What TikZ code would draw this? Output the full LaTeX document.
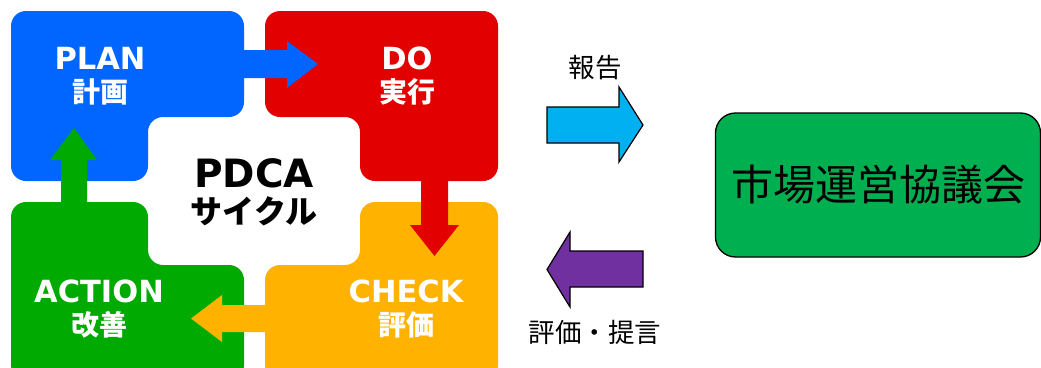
\documentclass[tikz,border=0pt]{standalone}
\usepackage{fontspec}
\setmainfont{Noto Sans CJK JP}
\newfontfamily\latinfont{DejaVu Sans}
\definecolor{pblue}{RGB}{0,102,255}
\definecolor{pred}{RGB}{226,0,0}
\definecolor{porange}{RGB}{255,178,0}
\definecolor{pgreen}{RGB}{0,170,0}
\definecolor{pcyan}{RGB}{0,176,240}
\definecolor{ppurple}{RGB}{112,48,160}
\definecolor{cgreen}{RGB}{0,176,80}
\tikzset{
  box/.style={rounded corners=15},
  wlabel/.style={text=white, font=\latinfont\bfseries\fontsize{30.5}{31}\selectfont, inner sep=0},
  wkanji/.style={text=white, font=\bfseries\fontsize{28}{28}\selectfont, inner sep=0},
  blockarrow/.style={draw=black, line width=1.2pt, line join=miter},
  side/.style={font=\fontsize{26.5}{27}\selectfont, inner sep=0},
}
\begin{document}
\begin{tikzpicture}[x=1pt,y=-1pt]
\clip (0,0) rectangle (1041,367);
\fill[white] (0,0) rectangle (1041,367);
% quadrants
\fill[pblue, box] (11,11) -- (244,11) -- (244,117) -- (148,117) -- (148,181) -- (11,181) -- cycle;
\fill[pred, box] (265,11) -- (498,11) -- (498,181) -- (360,181) -- (360,117) -- (265,117) -- cycle;
\fill[porange, box] (360,202) -- (498,202) -- (498,380) -- (265,380) -- (265,265) -- (360,265) -- cycle;
\fill[pgreen, box] (11,202) -- (148,202) -- (148,265) -- (244,265) -- (244,380) -- (11,380) -- cycle;
% cycle arrows
\fill[pblue] (240,50) -- (287,50) -- (287,41) -- (318,64) -- (287,88) -- (287,78) -- (240,78) -- cycle;
\fill[pred] (421,177) -- (421,225) -- (410,225) -- (434.5,256) -- (459,225) -- (448,225) -- (448,177) -- cycle;
\fill[porange] (269,305) -- (222,305) -- (222,295) -- (191,318.5) -- (222,342) -- (222,332) -- (269,332) -- cycle;
\fill[pgreen] (61,206) -- (61,160) -- (50,160) -- (74,128) -- (97,160) -- (87,160) -- (87,206) -- cycle;
% labels
\node[wlabel] (plan) at (100,58) {PLAN};
\node[wkanji] (plank) at (100,92) {計画};
\node[wlabel] (do) at (407,58) {DO};
\node[wkanji] (dok) at (407,92) {実行};
\node[wlabel] (action) at (99,291) {ACTION};
\node[wkanji] (actionk) at (99,325) {改善};
\node[wlabel] (check) at (406,291) {CHECK};
\node[wkanji] (checkk) at (406,325) {評価};
\node[font=\latinfont\bfseries\fontsize{39}{39}\selectfont, inner sep=0] (pdca) at (254,173) {PDCA};
\node[font=\bfseries\fontsize{32}{32}\selectfont, inner sep=0] (cycle) at (254,211) {サイクル};
% right side
\filldraw[blockarrow, fill=pcyan] (547,107) -- (619,107) -- (619,87) -- (643,125) -- (619,162) -- (619,143) -- (547,143) -- cycle;
\filldraw[blockarrow, fill=ppurple] (643,251) -- (570,251) -- (570,232) -- (547,269.5) -- (570,307) -- (570,287) -- (643,287) -- cycle;
\node[side] (report) at (595,68) {報告};
\node[side] (eval) at (595,332) {評価・提言};
\node[draw=black, line width=1.3pt, fill=cgreen, rounded corners=20, minimum width=325pt, minimum height=144pt, inner sep=0,
      font=\fontsize{42}{42}\selectfont] (council) at (878,185) {市場運営協議会};
\end{tikzpicture}
\end{document}
